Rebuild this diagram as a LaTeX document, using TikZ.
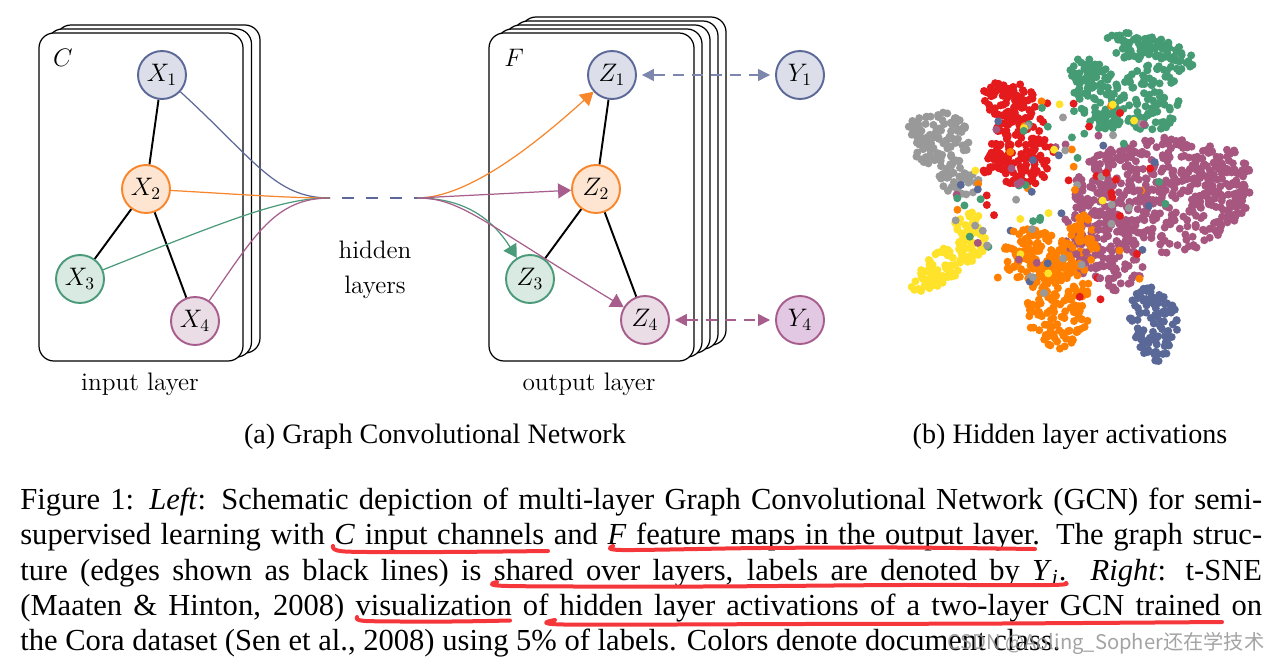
\documentclass[tikz,border=0pt]{standalone}
\usepackage{fontspec}
\usetikzlibrary{arrows.meta}
\newfontfamily\capfont{Liberation Serif}
\newfontfamily\wmfont{Noto Sans CJK SC}
% diagram colours
\definecolor{gblue}{HTML}{5C6898}
\definecolor{gbluefill}{HTML}{DCDFEA}
\definecolor{gorange}{HTML}{F7862C}
\definecolor{gorangefill}{HTML}{FDE5D1}
\definecolor{ggreen}{HTML}{4B9B7A}
\definecolor{ggreenfill}{HTML}{D9EAE2}
\definecolor{gpurple}{HTML}{A75E8C}
\definecolor{gpurplefill}{HTML}{EADDE6}
\definecolor{glilac}{HTML}{E3C8E3}
\definecolor{uline}{HTML}{F5363A}
% t-SNE colours
\definecolor{scgreen}{HTML}{449B74}
\definecolor{scred}{HTML}{E41A1C}
\definecolor{scgray}{HTML}{999999}
\definecolor{scpurple}{HTML}{A6567F}
\definecolor{scyellow}{HTML}{FFE32B}
\definecolor{scorange}{HTML}{FF7F00}
\definecolor{scblue}{HTML}{5A6898}

\begin{document}
\begin{tikzpicture}[x=0.02cm, y=-0.02cm, font=\fontsize{14.4}{20}\selectfont]

      \tikzset{gnode/.style 2 args={draw=#1, fill=#2, circle, line width=1.1pt, minimum size=0.96cm, inner sep=0pt},
               layerbox/.style={draw, fill=white, rounded corners=0.3cm, line width=0.7pt},
               blackedge/.style={line width=1.1pt},
               link/.style={line width=0.7pt},
               tip/.style={-{Triangle[length=0.26cm, width=0.3cm]}},
               labelarrow/.style={{Triangle[length=0.24cm, width=0.24cm]}-{Triangle[length=0.24cm, width=0.24cm]}, line width=0.8pt, dash pattern=on 0.22cm off 0.16cm, shorten <=0.1cm, shorten >=0.1cm},
               captext/.style={anchor=base west, inner sep=0pt, font=\capfont\fontsize{17.4}{20}\selectfont},
               subcap/.style={inner sep=0pt, font=\capfont\fontsize{16}{19}\selectfont},
               underl/.style={uline, line width=0.08cm, line cap=round, line join=round}}
      \useasboundingbox (0,0) rectangle (1274,663);

%% Layer stacks
      \foreach \k in {2,1,0}
        \draw[layerbox] ({39+8.5*\k},{33-4*\k}) rectangle ++(204,328);
      \foreach \k in {4,3,2,1,0}
        \draw[layerbox] ({489+8*\k},{33-4*\k}) rectangle ++(205,328);
      \node (cin) at (63,58) {$C$};
      \node (fout) at (514,58) {$F$};

%% Vertices
      	\node[gnode={gblue}{gbluefill}] (x1) at (162,75) {$X_1$};
      	\node[gnode={gorange}{gorangefill}] (x2) at (146,189) {$X_2$};
      	\node[gnode={ggreen}{ggreenfill}] (x3) at (80,279) {$X_3$};
      	\node[gnode={gpurple}{gpurplefill}] (x4) at (195,321) {$X_4$};
      	\node[gnode={gblue}{gbluefill}] (z1) at (612,75) {$Z_1$};
      	\node[gnode={gorange}{gorangefill}] (z2) at (596,189) {$Z_2$};
      	\node[gnode={ggreen}{ggreenfill}] (z3) at (530,279) {$Z_3$};
      	\node[gnode={gpurple}{gpurplefill}] (z4) at (645,320) {$Z_4$};
      	\node[gnode={gblue}{gbluefill}] (y1) at (800,75) {$Y_1$};
      	\node[gnode={gpurple}{glilac}] (y4) at (800,320) {$Y_4$};
      	\coordinate (hin) at (330,198);
      	\coordinate (hout) at (417,198);

%Edges
		\path [blackedge] (x1) edge (x2) (x2) edge (x3) (x2) edge (x4);
		\path [blackedge] (z1) edge (z2) (z2) edge (z3) (z2) edge (z4);
		\draw [link, gblue] (x1) .. controls (255,160) and (275,198) .. (hin);
		\draw [link, gorange] (x2) .. controls (250,195) and (290,198) .. (hin);
		\draw [link, ggreen] (x3) .. controls (240,215) and (285,198) .. (hin);
		\draw [link, gpurple] (x4) .. controls (255,235) and (275,198) .. (hin);
		\draw [link, gblue, dash pattern=on 0.24cm off 0.24cm, dash phase=0.24cm] (hin) -- (hout);
		\draw [link, tip, gorange] (hout) .. controls (470,198) and (540,140) .. (z1);
		\draw [link, tip, gpurple] (hout) -- (z2);
		\draw [link, tip, ggreen] (hout) .. controls (460,198) and (490,215) .. (z3);
		\draw [link, tip, gpurple] (hout) .. controls (460,198) and (480,220) .. (z4);
		\draw [labelarrow, gblue!80] (z1) -- (y1);
		\draw [labelarrow, gpurple] (z4) -- (y4);

%% Labels
      \node (inlab) at (140,384) {input layer};
      \node[align=center] (hidlab) at (375,270) {hidden\\layers};
      \node (outlab) at (589,384) {output layer};
      \node[subcap] (suba) at (435,437) {(a) Graph Convolutional Network};
      \node[subcap] (subb) at (1070,437) {(b) Hidden layer activations};

%% t-SNE clusters: colour/centre/radii/angle/points
      \pgfmathsetseed{4242}
      \foreach \cc/\cx/\cy/\rx/\ry/\ang/\n in {
          scgreen/1150/52/46/16/15/100, scgreen/1098/95/38/22/65/100, scgreen/1150/100/30/33/0/80, scgreen/1085/70/15/12/0/20,
          scred/1010/100/28/20/20/80, scred/1022/150/32/38/0/120, scred/995/165/15/15/0/20,
          scgray/940/140/30/28/0/100, scgray/960/180/22/16/0/35, scgray/918/125/10/10/0/10,
          scpurple/1160/195/88/58/0/380, scpurple/1098/230/34/50/0/100, scpurple/1218/185/34/40/0/100,
          scpurple/1118/266/26/26/0/50,
          scyellow/950/262/46/15/-35/115, scyellow/970/225/16/13/0/25,
          scorange/1035/255/32/27/0/115, scorange/1060/302/32/48/10/145, scorange/1082/245/15/30/0/40,
          scblue/1155/325/24/40/-15/105}{
        \foreach \k in {1,...,\n}{
          \pgfmathsetmacro\rr{sqrt(rnd)}
          \pgfmathsetmacro\ta{360*rnd}
          \fill[\cc] (\cx,\cy) ++(\ang:{\rx*\rr*cos(\ta)}) ++(\ang+90:{\ry*\rr*sin(\ta)}) circle[radius=0.08cm];
        }
      }
      \pgfmathdeclarerandomlist{scmix}{{scred}{scgreen}{scgray}{scpurple}{scyellow}{scorange}{scblue}}
      \foreach \k in {1,...,130}{
        \pgfmathrandomitem\mc{scmix}
        \pgfmathsetmacro\rr{sqrt(rnd)}
        \pgfmathsetmacro\ta{360*rnd}
        \fill[\mc] (1065,200) ++(0:{115*\rr*cos(\ta)}) ++(90:{105*\rr*sin(\ta)}) circle[radius=0.08cm];
      }

%% Caption
      \node[captext] (cap1) at (20,509) {\makebox[24.84cm][s]{Figure 1: \textit{Left}: Schematic depiction of multi-layer Graph Convolutional Network (GCN) for semi-}};
      \node[captext] (cap2) at (20,544.5) {\makebox[24.84cm][s]{supervised learning with \textit{C} input channels and \textit{F} feature maps in the output layer. The graph struc-}};
      \node[captext] (cap3) at (20,580) {\makebox[24.84cm][s]{ture (edges shown as black lines) is shared over layers, labels are denoted by \textit{Y}\textsubscript{\textit{i}}. \textit{Right}: t-SNE}};
      \node[captext] (cap4) at (20,615.5) {\makebox[24.84cm][s]{(Maaten \& Hinton, 2008) visualization of hidden layer activations of a two-layer GCN trained on}};
      \node[captext] (cap5) at (20,650) {the Cora dataset (Sen et al., 2008) using 5\% of labels. Colors denote document class.};

%% Red marks
      \draw[underl] plot[smooth] coordinates {(333,546) (345,551.5) (440,552) (548,551)};
      \draw[underl] plot[smooth] coordinates {(613,546) (622,550) (760,548) (900,547.5) (1035,549)};
      \draw[underl] plot[smooth] coordinates {(497,582) (508,586) (700,586.5) (900,585) (1050,585) (1066,583)};
      \draw[underl] plot[smooth] coordinates {(357,617) (366,621) (450,621.5) (510,620.5)};
      \draw[underl] plot[smooth] coordinates {(555,620) (564,624.5) (800,624) (1000,623.5) (1222,622)};

      \node[text=gray!85, opacity=0.85, font=\wmfont\fontsize{11.5}{12}\selectfont] (wmark) at (1106,643) {CSDN @Aoling\_Sopher还在学技术};

	\end{tikzpicture}
\end{document}
